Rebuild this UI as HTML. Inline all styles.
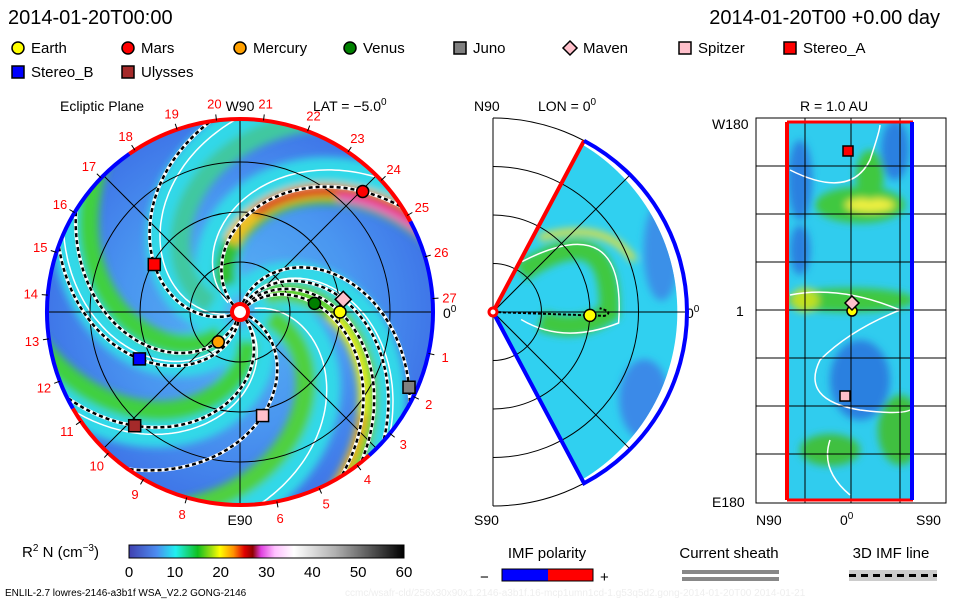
<!DOCTYPE html>
<html><head><meta charset="utf-8">
<style>
html,body{margin:0;padding:0;background:#fff;}
svg{display:block;font-family:"Liberation Sans",sans-serif;}
</style></head>
<body>
<svg id="c" width="960" height="600" viewBox="0 0 960 600">
<defs>
<linearGradient id="cbar" x1="0" x2="1" y1="0" y2="0">
<stop offset="0" stop-color="#4040b0"/><stop offset="0.1" stop-color="#4c8cf0"/><stop offset="0.17" stop-color="#20f0f0"/>
<stop offset="0.25" stop-color="#10c020"/><stop offset="0.3" stop-color="#a0e010"/><stop offset="0.33" stop-color="#ffff00"/>
<stop offset="0.38" stop-color="#ff9000"/><stop offset="0.42" stop-color="#e00000"/><stop offset="0.45" stop-color="#900000"/>
<stop offset="0.48" stop-color="#e040e0"/><stop offset="0.53" stop-color="#ffc0ff"/><stop offset="0.6" stop-color="#ffffff"/>
<stop offset="0.75" stop-color="#b0b0b0"/><stop offset="1" stop-color="#000000"/>
</linearGradient>
<radialGradient id="eclbg" cx="240" cy="312" r="193" gradientUnits="userSpaceOnUse">
<stop offset="0" stop-color="#58b4f4"/><stop offset="0.6" stop-color="#4a96f0"/><stop offset="1" stop-color="#3f76e8"/>
</radialGradient>
<clipPath id="clipE"><circle cx="240" cy="312" r="193"/></clipPath>
<clipPath id="clipM"><path d="M493,312 L583,145 A195,195 0 0 1 583,479 Z"/></clipPath>
<clipPath id="clipR"><rect x="786" y="122" width="127" height="378"/></clipPath>
<filter id="blur"><feGaussianBlur stdDeviation="4"/></filter>
</defs>

<text x="8" y="24" font-size="20">2014-01-20T00:00</text>
<text x="940" y="24" font-size="20" text-anchor="end">2014-01-20T00 +0.00 day</text>

<g id="legend" font-size="15"></g>

<text x="60" y="111" font-size="14">Ecliptic Plane</text>
<text x="313" y="111" font-size="14">LAT = −5.0<tspan dy="-6" font-size="10">0</tspan></text>
<text x="240" y="111" font-size="14" text-anchor="middle">W90</text>
<g id="ecl" clip-path="url(#clipE)"></g>
<g id="eclOver"></g>
<g id="rim" font-size="13" fill="#f00"></g>
<text x="240" y="525" font-size="14" text-anchor="middle">E90</text>
<text x="443" y="318" font-size="14">0<tspan dy="-6" font-size="10">0</tspan></text>

<text x="474" y="111" font-size="14">N90</text>
<text x="538" y="111" font-size="14">LON = 0<tspan dy="-6" font-size="10">0</tspan></text>
<text x="474" y="525" font-size="14">S90</text>
<text x="686" y="318" font-size="14">0<tspan dy="-6" font-size="10">0</tspan></text>
<g id="mer"></g>

<text x="800" y="111" font-size="14">R = 1.0 AU</text>
<text x="712" y="129" font-size="14">W180</text>
<text x="712" y="507" font-size="14">E180</text>
<text x="736" y="316" font-size="14">1</text>
<text x="756" y="525" font-size="14">N90</text>
<text x="840" y="525" font-size="14">0<tspan dy="-6" font-size="10">0</tspan></text>
<text x="916" y="525" font-size="14">S90</text>
<g id="rp"></g>

<text x="22" y="557" font-size="15">R<tspan dy="-6" font-size="10">2</tspan><tspan dy="6"> N (cm</tspan><tspan dy="-6" font-size="10">−3</tspan><tspan dy="6">)</tspan></text>
<rect x="129" y="545" width="275" height="13" fill="url(#cbar)" stroke="#000"/>
<g id="cbt" font-size="15"></g>
<text x="5" y="596" font-size="10">ENLIL-2.7 lowres-2146-a3b1f WSA_V2.2 GONG-2146</text>
<text x="345" y="596" font-size="10" fill="#eee">ccmc/wsafr-cld/256x30x90x1.2146-a3b1f.16-mcp1umn1cd-1.g53q5d2.gong-2014-01-20T00   2014-01-21</text>
<text x="547" y="558" font-size="15" text-anchor="middle">IMF polarity</text>
<text x="480" y="582" font-size="15">−</text>
<rect x="502" y="569" width="46" height="12" fill="#00f"/>
<rect x="548" y="569" width="45" height="12" fill="#f00"/>
<rect x="502" y="569" width="91" height="12" fill="none" stroke="#000"/>
<text x="600" y="582" font-size="15">+</text>
<text x="729" y="558" font-size="15" text-anchor="middle">Current sheath</text>
<rect x="682" y="570" width="97" height="4" fill="#888"/>
<rect x="682" y="577" width="97" height="4" fill="#888"/>
<text x="891" y="558" font-size="15" text-anchor="middle">3D IMF line</text>
<rect x="849" y="570" width="88" height="11" fill="#ccc"/>
<line x1="849" y1="575.5" x2="937" y2="575.5" stroke="#000" stroke-width="3" stroke-dasharray="7,5"/>
</svg>
<script>
const NS="http://www.w3.org/2000/svg";
function mk(tag,attrs,parent){const e=document.createElementNS(NS,tag);for(const k in attrs)e.setAttribute(k,attrs[k]);parent.appendChild(e);return e;}

// ---- data ----
const bodyNames=["Earth","Mars","Mercury","Venus","Juno","Maven","Spitzer","Stereo_A","Stereo_B","Ulysses"];
const bodyColors=["#ffff00","#ff0000","#ffa000","#008000","#808080","#ffc0cb","#ffc0cb","#ff0000","#0000ff","#a52a2a"];
const bodyShapes=["circle","circle","circle","circle","square","diamond","square","square","square","square"];
const bodyR=[1.0,1.72,0.37,0.75,1.85,1.04,1.06,0.98,1.11,1.55];
const bodyLon=[0,44.5,-126,6.6,-24,7,-77.7,151,-155,-132.8];
const rimLabels=["19","20","21","22","23","24","25","26","27","1","2","3","4","5","6","8","9","10","11","12","13","14","15","16","17","18"];
const rimAngles=[109,97,83,69.5,56,43,30,16.6,4,-12.4,-26,-39,-52.6,-65.8,-79,-106,-120,-133,-145.5,-159,-172,175,162,149,136,123];
const armRimLon=[140,-165,-100,-55,28,75];
const armColors=["#40d040","#40d040","#50d040","#60d030","#30c030","#40c8a0"];
const cbTicks=[0,10,20,30,40,50,60];

const CX=240,CY=312,S=100,RMAX=1.93;
const px=(r,a)=>CX+r*S*Math.cos(a*Math.PI/180);
const py=(r,a)=>CY-r*S*Math.sin(a*Math.PI/180);
const K=55;
function spiral(lon0,r0,r1,off){let d="";for(let r=r0;r<=r1+1e-6;r+=0.02){const a=lon0-K*r+(off||0);d+=(d?"L":"M")+px(r,a).toFixed(1)+","+py(r,a).toFixed(1);}return d;}
const rimToLon0=a=>a+K*1.93;

const L=document.getElementById("legend");
bodyNames.forEach((n,i)=>{
 const col=i<8?i:i-8,row=i<8?0:1;
 const x=[18,128,240,350,460,570,685,790][col],y=48+row*24;
 let m;
 if(bodyShapes[i]=="circle")m=mk("circle",{cx:x,cy:y,r:6,fill:bodyColors[i],stroke:"#000","stroke-width":1.5},L);
 else if(bodyShapes[i]=="diamond")m=mk("path",{d:`M${x},${y-7}L${x+7},${y}L${x},${y+7}L${x-7},${y}Z`,fill:bodyColors[i],stroke:"#000","stroke-width":1.5},L);
 else m=mk("rect",{x:x-6,y:y-6,width:12,height:12,fill:bodyColors[i],stroke:"#000","stroke-width":1.5},L);
 
 
 const t=mk("text",{x:x+13,y:y+5},L);t.textContent=n;
 
 
});

const E=document.getElementById("ecl");
let bg=mk("circle",{cx:CX,cy:CY,r:193,fill:"url(#eclbg)"},E);


const bl=mk("g",{filter:"url(#blur)"},E);
armRimLon.forEach((a,i)=>{
 let h=mk("path",{d:spiral(rimToLon0(a),0.15,2.4,10),fill:"none",stroke:"#30d8e8","stroke-width":44},bl);
 
});
armRimLon.forEach((a,i)=>{
 let p=mk("path",{d:spiral(rimToLon0(a),0.3,2.4),fill:"none",stroke:armColors[i],"stroke-width":20},bl);
 
});
let yl=mk("path",{d:spiral(rimToLon0(-55),0.9,2.4,-3),fill:"none",stroke:"#f0f020","stroke-width":10},bl);

let yo=mk("path",{d:spiral(rimToLon0(-55),1.6,2.4,-3),fill:"none",stroke:"#f0a020","stroke-width":8},bl);

let ol=mk("path",{d:spiral(rimToLon0(28),0.7,2.4,2),fill:"none",stroke:"#f0c020","stroke-width":16},bl);

let hot=mk("path",{d:spiral(rimToLon0(28),1.0,2.4,2),fill:"none",stroke:"#d82020","stroke-width":9},bl);

let pk=mk("path",{d:spiral(rimToLon0(28),1.5,2.4,-2),fill:"none",stroke:"#f060c0","stroke-width":8},bl);

armRimLon.forEach(a=>{
 let w=mk("path",{d:spiral(rimToLon0(a),0.15,2.4,16),fill:"none",stroke:"#fff","stroke-width":1.5},E);
 
});
[0.5,1,1.5].forEach(r=>{let c=mk("circle",{cx:CX,cy:CY,r:r*S,fill:"none",stroke:"#000","stroke-width":1},E);});
[0,45,90,135].forEach(a=>{let g=mk("line",{x1:px(2,a),y1:py(2,a),x2:px(2,a+180),y2:py(2,a+180),stroke:"#000","stroke-width":1},E);});
bodyNames.forEach((n,i)=>{
 const l0=bodyLon[i]+K*bodyR[i];
 let b=mk("path",{d:spiral(l0,0.1,2.2),fill:"none",stroke:"#fff","stroke-width":3.5},E);
 
 let d=mk("path",{d:spiral(l0,0.1,2.2),fill:"none",stroke:"#000","stroke-width":2.5,"stroke-dasharray":"4,3"},E);
 
});
const O=document.getElementById("eclOver");
function rimArc(a1,a2,col,name){
 const large=Math.abs(a1-a2)>180?1:0;
 let p=mk("path",{d:`M${px(RMAX,a1)},${py(RMAX,a1)} A193,193 0 ${large} 1 ${px(RMAX,a2)},${py(RMAX,a2)}`,fill:"none",stroke:col,"stroke-width":4},O);
 
}
rimArc(125,28,"#f00","rim-positive-top");
rimArc(28,-48,"#00f","rim-negative-right");
rimArc(-48,-150,"#f00","rim-positive-bottom");
rimArc(-150,-235,"#00f","rim-negative-left");
rimAngles.forEach(a=>{
 let t=mk("line",{x1:px(1.93,a),y1:py(1.93,a),x2:px(1.99,a),y2:py(1.99,a),stroke:"#000","stroke-width":1},O);
 
});
let sun=mk("circle",{cx:CX,cy:CY,r:8,fill:"#fff",stroke:"#f00","stroke-width":4},O);

function marker(parent,i,x,y,s){
 let m;
 if(bodyShapes[i]=="circle")m=mk("circle",{cx:x,cy:y,r:s,fill:bodyColors[i],stroke:"#000","stroke-width":1.5},parent);
 else if(bodyShapes[i]=="diamond")m=mk("path",{d:`M${x},${y-s-2}L${x+s+2},${y}L${x},${y+s+2}L${x-s-2},${y}Z`,fill:bodyColors[i],stroke:"#000","stroke-width":1.5},parent);
 else m=mk("rect",{x:x-s,y:y-s,width:2*s,height:2*s,fill:bodyColors[i],stroke:"#000","stroke-width":1.5},parent);
 return m;
}
bodyNames.forEach((n,i)=>{
 const m=marker(O,i,px(bodyR[i],bodyLon[i]),py(bodyR[i],bodyLon[i]),6);
 
 
});
const R=document.getElementById("rim");
rimLabels.forEach((t,i)=>{
 const tx=mk("text",{x:px(2.1,rimAngles[i]),y:py(2.1,rimAngles[i])+5,"text-anchor":"middle"},R);
 tx.textContent=t;
 
 
});

const M=document.getElementById("mer");
const MX=493,MY=312,MS=97;
const mx=(r,a)=>MX+r*MS*Math.cos(a*Math.PI/180), my=(r,a)=>MY-r*MS*Math.sin(a*Math.PI/180);
const mg=mk("g",{"clip-path":"url(#clipM)"},M);
let mbg=mk("rect",{x:490,y:140,width:200,height:345,fill:"#30d0f0"},mg);

const mb=mk("g",{filter:"url(#blur)"},mg);
let mA=mk("path",{d:`M${mx(0.5,55)},${my(0.5,55)} Q${mx(1.6,40)},${my(1.6,40)} ${mx(1.2,0)},${my(1.2,0)} Q${mx(0.9,-15)},${my(0.9,-15)} ${mx(0.5,-10)},${my(0.5,-10)}`,fill:"none",stroke:"#40c840","stroke-width":20},mb);

let mB=mk("path",{d:`M${mx(0.9,58)},${my(0.9,58)} Q${mx(1.5,40)},${my(1.5,40)} ${mx(1.55,20)},${my(1.55,20)}`,fill:"none",stroke:"#e0e040","stroke-width":7},mb);

let mC=mk("ellipse",{cx:mx(1.8,-30),cy:my(1.8,-30),rx:25,ry:40,fill:"#3a8ae8"},mb);

let mD=mk("ellipse",{cx:mx(1.85,20),cy:my(1.85,20),rx:18,ry:50,fill:"#3a90e8"},mb);

let mw=mk("path",{d:`M${mx(0.6,60)},${my(0.6,60)} Q${mx(1.75,38)},${my(1.75,38)} ${mx(1.3,-5)},${my(1.3,-5)} Q${mx(0.8,-25)},${my(0.8,-25)} ${mx(0.3,-15)},${my(0.3,-15)}`,fill:"none",stroke:"#fff","stroke-width":1.5},mg);

[0.5,1,1.5,2].forEach(r=>{let c=mk("path",{d:`M${mx(r,90)},${my(r,90)} A${r*MS},${r*MS} 0 0 1 ${mx(r,-90)},${my(r,-90)}`,fill:"none",stroke:"#000","stroke-width":1},M);});
[90,45,0,-45,-90].forEach(a=>{let g=mk("line",{x1:MX,y1:MY,x2:mx(2,a),y2:my(2,a),stroke:"#000","stroke-width":1},M);});
let me1=mk("line",{x1:MX,y1:MY,x2:mx(2,62),y2:my(2,62),stroke:"#f00","stroke-width":4},M);

let me2=mk("path",{d:`M${mx(2,62)},${my(2,62)} A${2*MS},${2*MS} 0 0 1 ${mx(2,-62)},${my(2,-62)} L${MX},${MY}`,fill:"none",stroke:"#00f","stroke-width":4},M);

let mimf=mk("path",{d:`M${MX},${MY} L${mx(1.15,-2)},${my(1.15,-2)} Q${mx(1.25,0)},${my(1.25,0)} ${mx(1.1,2)},${my(1.1,2)}`,fill:"none",stroke:"#000","stroke-width":2,"stroke-dasharray":"3,2"},M);

let ms=mk("circle",{cx:MX,cy:MY,r:4,fill:"#fff",stroke:"#f00","stroke-width":3},M);

let mE=marker(M,0,mx(bodyR[0],-2),my(bodyR[0],-2),6);


const P=document.getElementById("rp");
const pg=mk("g",{"clip-path":"url(#clipR)"},P);
let pbg=mk("rect",{x:786,y:122,width:127,height:378,fill:"#30ccee"},pg);

const pb=mk("g",{filter:"url(#blur)"},pg);
[[860,205,45,18,"#40c840"],[870,205,25,7,"#f0f040"],[850,300,65,12,"#40c840"],[870,175,14,25,"#40c840"],[800,180,12,40,"#2a80e0"],[900,430,22,35,"#40c040"],[830,450,30,16,"#40c040"],[895,150,14,30,"#2a80e0"],[860,380,30,40,"#2a80e0"],[805,300,14,12,"#c0e020"],[800,250,10,25,"#2a80e0"]].forEach(b=>{
 let e=mk("ellipse",{cx:b[0],cy:b[1],rx:b[2],ry:b[3],fill:b[4]},pb);
 
});
let pw=mk("path",{d:"M790,170 Q850,200 870,160 Q880,130 880,125 M790,295 Q840,285 900,310 Q850,330 820,360 Q800,400 860,410 Q900,415 910,410 M830,440 Q820,470 850,495",fill:"none",stroke:"#fff","stroke-width":1.5},pg);

let gb=mk("rect",{x:756,y:118,width:190,height:385,fill:"none",stroke:"#000"},P);

[805,851,900].forEach(x=>{let l=mk("line",{x1:x,y1:118,x2:x,y2:503,stroke:"#000"},P);});
[166,214,262,310,358,406,454].forEach(y=>{let l=mk("line",{x1:756,y1:y,x2:946,y2:y,stroke:"#000"},P);});
let pr=mk("line",{x1:787,y1:122,x2:787,y2:500,stroke:"#f00","stroke-width":4},P);

let pr2=mk("path",{d:"M787,122 L913,122 M787,500 L913,500",stroke:"#f00","stroke-width":3},P);

let pbl=mk("line",{x1:912,y1:122,x2:912,y2:500,stroke:"#00f","stroke-width":4},P);

const rpPts=[[0,852,311],[5,852,303],[6,845,396],[7,848,151]];
rpPts.forEach(p=>{const m=marker(P,p[0],p[1],p[2],5);});

const CB=document.getElementById("cbt");
cbTicks.forEach(v=>{
 const x=129+v/60*275;
 const t=mk("text",{x:x,y:577,"text-anchor":"middle"},CB);t.textContent=v;
 
 
});
</script>
</body></html>
